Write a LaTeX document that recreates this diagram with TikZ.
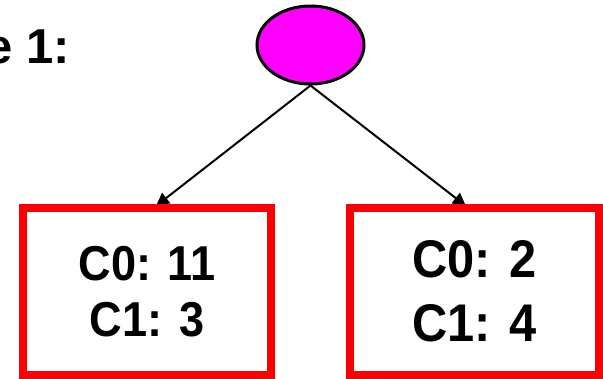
\documentclass[tikz,border=0pt]{standalone}
\usepackage{fontspec}
\setmainfont{Liberation Sans}
\newfontfamily\boxfont[FakeStretch=0.92]{Liberation Sans}
\usetikzlibrary{shapes.geometric,arrows.meta}
\definecolor{nodemagenta}{RGB}{255,0,255}
\definecolor{boxred}{RGB}{255,0,0}
\tikzset{
  rootnode/.style={ellipse, draw=black, line width=3pt, fill=nodemagenta,
    minimum width=107pt, minimum height=78pt, inner sep=0pt},
  leafbox/.style={rectangle, draw=boxred, line width=8pt, fill=white,
    minimum width=248pt, minimum height=167pt, inner sep=0pt, align=center},
  edge/.style={line width=2pt, -{Triangle[length=13pt,width=13pt]}},
  titletext/.style={font=\fontsize{49}{56}\selectfont\bfseries},
  smalltext/.style={font=\boxfont\fontsize{49}{56}\selectfont\bfseries},
  bigtext/.style={font=\boxfont\fontsize{53}{64}\selectfont\bfseries}
}
\begin{document}
\begin{tikzpicture}[x=1pt,y=-1pt]
\clip (0,0) rectangle (603,378);
\fill[white] (0,0) rectangle (603,378);
\node[anchor=base east, inner sep=0pt, titletext] (title) at (70,63) {e 1:};
\node[rootnode] (root) at (310.5,45) {};
\coordinate (lt) at (156,206);
\coordinate (rt) at (466,206);
\draw[edge] (root.south) -- (lt);
\draw[edge] (root.south) -- (rt);
\node[leafbox, smalltext] (left) at (147,291.5) {C0: 11\\C1: 3};
\node[leafbox, bigtext, minimum width=249pt] (right) at (474.5,291.5) {C0: 2\\C1: 4};
\end{tikzpicture}
\end{document}
